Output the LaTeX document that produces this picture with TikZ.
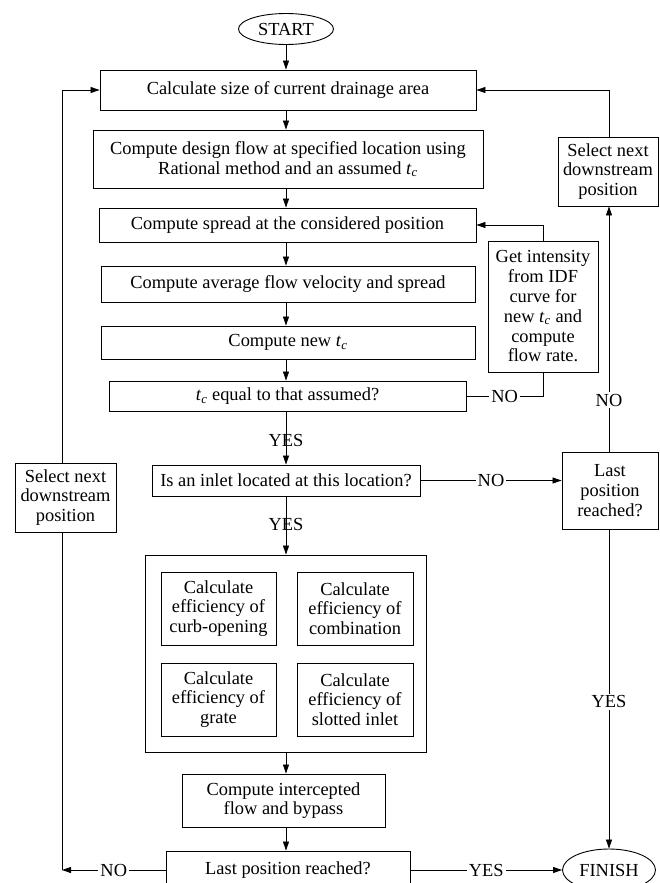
\documentclass[tikz,border=0pt]{standalone}
\usepackage{fontspec}
\setmainfont{Liberation Serif}
\usetikzlibrary{arrows.meta,shapes.geometric}
\newcommand{\tcx}{\textit{t}\textsubscript{\textit{c}}}
\tikzset{
  txt/.style={font=\fontsize{18.4}{19.8}\selectfont},
  box/.style={draw, line width=0.9pt, align=center, inner sep=1pt, txt},
  term/.style={draw, ellipse, line width=0.9pt, inner sep=0pt, txt},
  arr/.style={-{Triangle[length=9pt,width=6pt]}, line width=0.8pt},
  ln/.style={line width=0.8pt},
  lbl/.style={fill=white, inner sep=2pt, txt},
  lblt/.style={inner sep=0pt, txt}
}
\begin{document}
\begin{tikzpicture}[x=1pt,y=-1pt]
\path[use as bounding box] (0,0) rectangle (659,883);
\fill[white] (0,0) rectangle (659,883);
\clip (0,0) rectangle (659,883);

\node[term, minimum width=95, minimum height=31] (start) at (286,29) {START};
\node[box, minimum width=376, minimum height=40] (b1) at (288,90) {Calculate size of current drainage area};
\node[box, minimum width=390, minimum height=58] (b2) at (288,159) {Compute design flow at specified location using\\Rational method and an assumed \tcx};
\node[box, minimum width=377, minimum height=34] (b3) at (287.5,225) {Compute spread at the considered position};
\node[box, minimum width=374, minimum height=36] (b4) at (288,284) {Compute average flow velocity and spread};
\node[box, minimum width=374, minimum height=33] (b5) at (288,342.5) {Compute new \tcx};
\node[box, minimum width=357, minimum height=30] (b6) at (287.5,396) {\tcx{} equal to that assumed?};
\node[box, minimum width=268, minimum height=31] (b7) at (286,480.5) {Is an inlet located at this location?};
\node[box, minimum width=281, minimum height=197] (cont) at (285.5,653.5) {};
\node[box, minimum width=115, minimum height=73] (e1) at (218.5,608.5) {Calculate\\efficiency of\\curb-opening};
\node[box, minimum width=116, minimum height=73] (e2) at (355,608.5) {Calculate\\efficiency of\\combination};
\node[box, minimum width=115, minimum height=73] (e3) at (218.5,699.5) {Calculate\\efficiency of\\grate};
\node[box, minimum width=116, minimum height=73] (e4) at (355,699.5) {Calculate\\efficiency of\\slotted inlet};
\node[box, minimum width=203, minimum height=53] (b8) at (283.5,800.5) {Compute intercepted\\flow and bypass};
\node[box, minimum width=244, minimum height=38] (b9) at (288,870) {Last position reached?};
\node[term, minimum width=93, minimum height=42] (finish) at (609,870) {FINISH};
\node[box, minimum width=101, minimum height=69] (sell) at (65.5,497.5) {Select next\\downstream\\position};
\node[box, minimum width=100, minimum height=69] (selr) at (608,171.5) {Select next\\downstream\\position};
\node[box, minimum width=96, minimum height=77] (lastr) at (610,490.5) {Last\\position\\reached?};
\node[box, minimum width=110, minimum height=131] (gi) at (543,306.5) {Get intensity\\from IDF\\curve for\\new \tcx\ and\\compute\\flow rate.};

\coordinate (L) at (62,870);
\coordinate (R) at (609,0);

% main column
\draw[arr] (start.south) -- (start.south |- b1.north);
\draw[arr] (b1.south -| start) -- (b2.north -| start);
\draw[arr] (b2.south -| start) -- (b3.north -| start);
\draw[arr] (b3.south -| start) -- (b4.north -| start);
\draw[arr] (b4.south -| start) -- (b5.north -| start);
\draw[arr] (b5.south -| start) -- (b6.north -| start);
\draw[arr] (b6.south -| start) -- node[lblt, pos=0.54]{YES} (b7.north -| start);
\draw[arr] (b7.south -| start) -- node[lblt, pos=0.49]{YES} (cont.north -| start);
\draw[arr] (cont.south -| start) -- (b8.north -| start);
\draw[arr] (b8.south -| start) -- (b9.north -| start);

% left loop
\draw[arr] (b9.west) -- node[lbl]{NO} (L);
\draw[ln] (L) -- (L |- sell.south);
\draw[arr] (L |- sell.north) -- (L |- b1.west) -- (b1.west);

% right side
\draw[arr] (b9.east) -- node[lbl]{YES} (finish.west);
\draw[arr] (b7.east) -- node[lbl]{NO} (b7.east -| lastr.west);
\draw[arr] (R |- lastr.south) -- node[lbl, pos=0.54]{YES} (finish.north);
\draw[arr] (R |- lastr.north) -- node[lbl, pos=0.21]{NO} (R |- selr.south);
\draw[arr] (R |- selr.north) -- (R |- b1.east) -- (b1.east);

% tc loop
\draw[ln] (b6.east) -- node[lbl]{NO} (b6.east -| gi.south) -- (gi.south);
\draw[arr] (gi.north) -- (gi.north |- b3.east) -- (b3.east);
\end{tikzpicture}
\end{document}
